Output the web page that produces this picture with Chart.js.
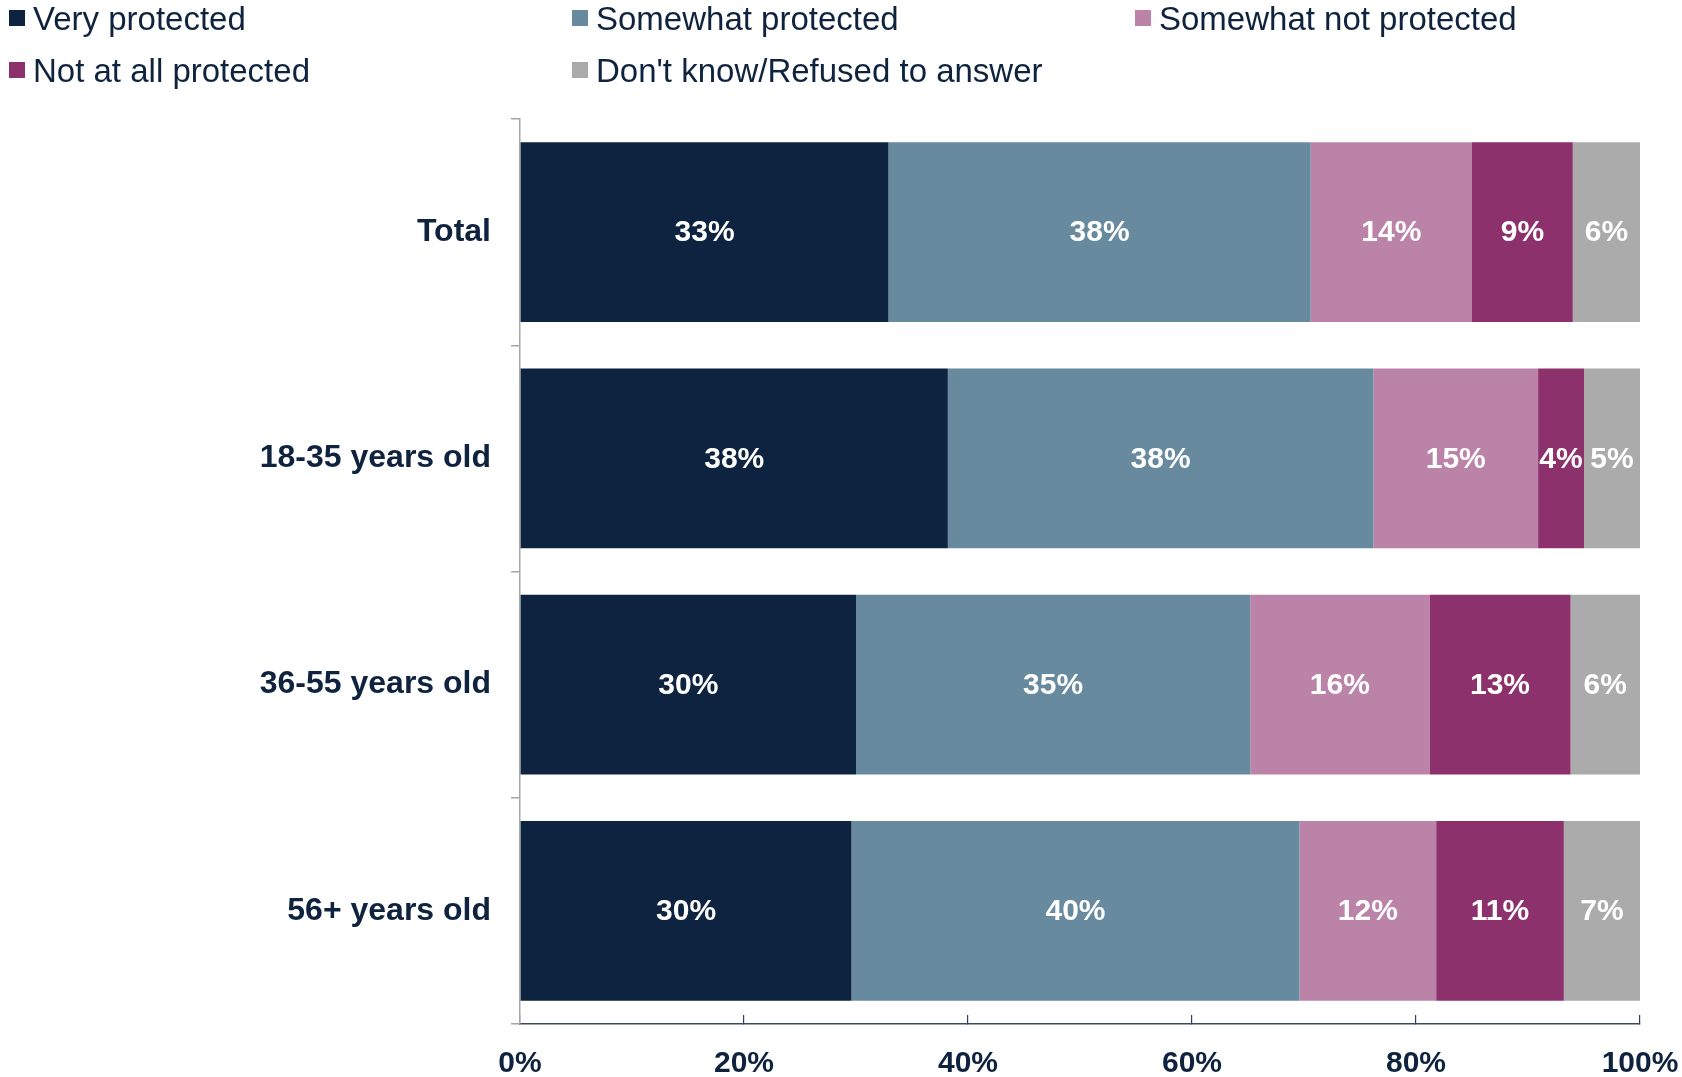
<!DOCTYPE html>
<html>
<head>
<meta charset="utf-8">
<script src="https://cdn.jsdelivr.net/npm/chart.js@4"></script>
<style>
  body { margin: 0; background: #fff; }
  #wrap { position: relative; width: 1682px; height: 1077px; }
  #legend .item { position: absolute; display: flex; align-items: center; height: 36px;
    font: 33px "Liberation Sans", Arial, sans-serif; color: #0F233F; white-space: nowrap; line-height: 1; }
  #legend .sw { width: 16px; height: 16px; margin-right: 8px; flex: none; }
</style>
</head>
<body>
<div id="wrap">
  <canvas id="c" width="1682" height="1077"></canvas>
  <div id="legend"></div>
</div>
<script>
// ── data ──
const groups = ['Total', '18-35 years old', '36-55 years old', '56+ years old'];
const seriesNames = ['Very protected', 'Somewhat protected', 'Somewhat not protected', 'Not at all protected', "Don't know/Refused to answer"];
const veryProtected     = [32.9, 38.2, 30.0, 29.6];
const somewhatProtected = [37.7, 38.0, 35.2, 40.0];
const somewhatNot       = [14.4, 14.7, 16.0, 12.2];
const notAtAll          = [9.0, 4.1, 12.6, 11.4];
const dontKnow          = [6.0, 5.0, 6.2, 6.8];

const colors = ['#0E2340', '#678A9E', '#BC83A9', '#8D316D', '#ABABAB'];
const navy = '#0F233F';
const FONT = '"Liberation Sans", Arial, sans-serif';

// legend (3-column grid)
const legendPos = [[9, 0], [572, 0], [1135, 0], [9, 52], [572, 52]];
const legend = document.getElementById('legend');
seriesNames.forEach((name, i) => {
  const it = document.createElement('div');
  it.className = 'item';
  it.style.left = legendPos[i][0] + 'px';
  it.style.top = legendPos[i][1] + 'px';
  it.innerHTML = `<span class="sw" style="background:${colors[i]}"></span><span>${name}</span>`;
  legend.appendChild(it);
});

// white % labels in the middle of each segment
const barLabels = {
  id: 'barLabels',
  afterDatasetsDraw(chart) {
    const ctx = chart.ctx;
    ctx.save();
    ctx.font = `bold 30px ${FONT}`;
    ctx.fillStyle = '#fff';
    ctx.textAlign = 'center';
    ctx.textBaseline = 'middle';
    chart.data.datasets.forEach((ds, i) => {
      chart.getDatasetMeta(i).data.forEach((bar, j) => {
        const p = bar.getProps(['x', 'y', 'base'], true);
        ctx.fillText(Math.round(ds.data[j]) + '%', (p.x + p.base) / 2, p.y + 1);
      });
    });
    ctx.restore();
  }
};

const allSeries = [veryProtected, somewhatProtected, somewhatNot, notAtAll, dontKnow];

new Chart(document.getElementById('c').getContext('2d'), {
  type: 'bar',
  data: {
    labels: groups,
    datasets: allSeries.map((d, i) => ({
      label: seriesNames[i], data: d, backgroundColor: colors[i],
      borderWidth: 0, barPercentage: 0.794, categoryPercentage: 1.0
    }))
  },
  options: {
    indexAxis: 'y',
    responsive: false,
    animation: false,
    layout: { padding: { top: 119, right: 42, left: 0, bottom: 0 } },
    scales: {
      x: {
        stacked: true, min: 0, max: 100,
        ticks: { stepSize: 20, color: navy, font: { family: FONT, size: 30, weight: 'bold' },
          padding: 31, maxRotation: 0, callback: v => v + '%' },
        grid: { drawOnChartArea: false, drawTicks: true, tickLength: -9, color: '#2E3F55', lineWidth: 1.2 },
        border: { color: '#3B4A5E', width: 1.5 },
        afterFit: s => { s.height = 53; s.paddingRight = 0; s.paddingLeft = 0; }
      },
      y: {
        stacked: true,
        ticks: { color: navy, font: { family: FONT, size: 32, weight: 'bold' }, padding: 20 },
        grid: { drawOnChartArea: false, drawTicks: true, tickLength: 9, color: '#A6A6A6', lineWidth: 1.5, offset: true },
        border: { color: '#A6A6A6', width: 1.5 },
        afterFit: s => { s.width = 520; }
      }
    },
    plugins: {
      legend: { display: false },
      tooltip: { enabled: false }
    }
  },
  plugins: [barLabels]
});
</script>
</body>
</html>
